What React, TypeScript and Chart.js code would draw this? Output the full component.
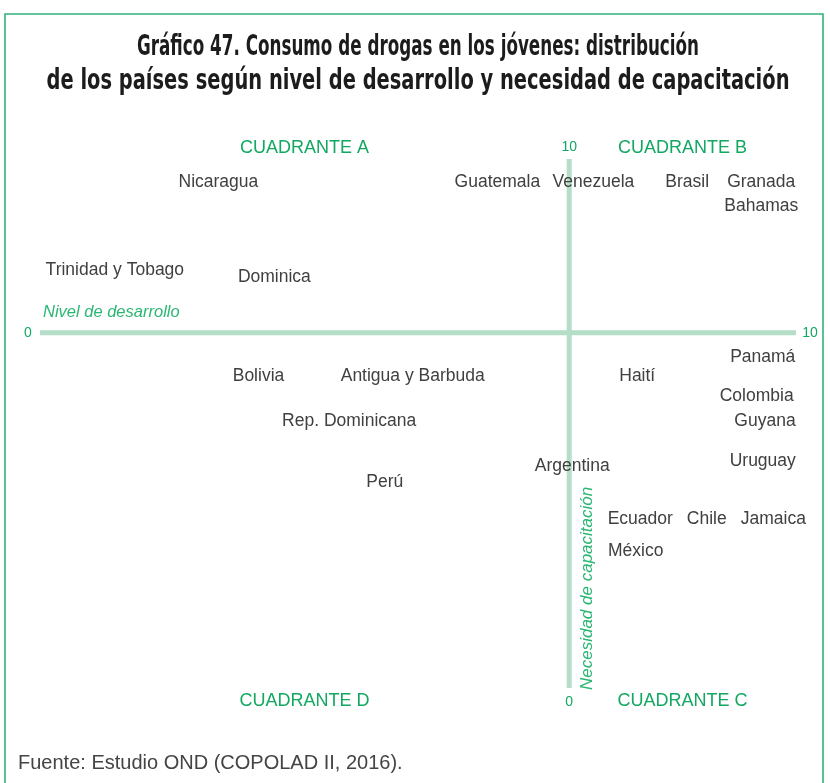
import React, { useEffect, useRef } from 'react';
import { Chart, registerables } from 'chart.js';

Chart.register(...registerables);

// ---- Data ----
const countries = [
  'Nicaragua', 'Guatemala', 'Venezuela', 'Brasil', 'Granada', 'Bahamas',
  'Trinidad y Tobago', 'Dominica', 'Bolivia', 'Antigua y Barbuda', 'Haití',
  'Panamá', 'Colombia', 'Rep. Dominicana', 'Guyana', 'Uruguay', 'Argentina',
  'Perú', 'Ecuador', 'Chile', 'Jamaica', 'México',
];
// Nivel de desarrollo (0–10)
const desarrollo = [
  2.36, 6.05, 7.32, 8.56, 9.54, 9.54,
  0.99, 3.10, 2.89, 4.93, 7.90,
  9.56, 9.48, 4.09, 9.59, 9.56, 7.04,
  4.56, 7.94, 8.82, 9.70, 7.88,
];
// Necesidad de capacitación (0–10)
const capacitacion = [
  9.53, 9.54, 9.54, 9.54, 9.54, 9.09,
  7.87, 7.75, 5.88, 5.88, 5.88,
  6.24, 5.51, 5.03, 5.03, 4.28, 4.18,
  3.89, 3.18, 3.18, 3.18, 2.59,
];
const xTickLabels = ['0', '10'];
const yTickLabels = ['0', '10'];
const xSplit = 7.0;
const ySplit = 6.69;
const quadrantNames = ['CUADRANTE A', 'CUADRANTE B', 'CUADRANTE C', 'CUADRANTE D'];
const titleLines = [
  'Gráfico 47. Consumo de drogas en los jóvenes: distribución',
  'de los países según nivel de desarrollo y necesidad de capacitación',
];
const xAxisTitle = 'Nivel de desarrollo';
const yAxisTitle = 'Necesidad de capacitación';
const sourceText = 'Fuente: Estudio OND (COPOLAD II, 2016).';

// ---- Styles ----
const GREEN = '#12a862';
const GREEN_AXIS_TITLE = '#2bb673';
const LINE_GREEN = '#b4dec7';
const FRAME_GREEN = '#2fb37a';
const TEXT = '#404040';
const SANS = '"Liberation Sans", Arial, Helvetica, sans-serif';

const quadrantPlugin = {
  id: 'quadrantDecor',
  beforeDraw(chart: any) {
    const { ctx, width, height } = chart;
    ctx.save();
    ctx.fillStyle = '#ffffff';
    ctx.fillRect(0, 0, width, height);
    // frame
    ctx.strokeStyle = FRAME_GREEN;
    ctx.lineWidth = 1.6;
    ctx.beginPath();
    ctx.moveTo(5, height + 5);
    ctx.lineTo(5, 14);
    ctx.lineTo(823, 14);
    ctx.lineTo(823, height + 5);
    ctx.stroke();

    // title, condensed bold
    const titleTargets = [562, 743];
    const titleY = [48, 82];
    ctx.fillStyle = '#1c1c1c';
    ctx.textBaseline = 'middle';
    ctx.textAlign = 'center';
    ctx.font = 'bold 27.5px "Liberation Sans Narrow", "DejaVu Sans Condensed", ' + SANS;
    titleLines.forEach((line, i) => {
      const w = ctx.measureText(line).width;
      const sx = titleTargets[i] / w;
      ctx.save();
      ctx.translate(418, titleY[i]);
      ctx.scale(sx, 1);
      ctx.fillText(line, 0, 0);
      ctx.restore();
    });

    // source
    ctx.font = '20px ' + SANS;
    ctx.fillStyle = '#444444';
    ctx.textAlign = 'left';
    ctx.fillText(sourceText, 18, 763);
    ctx.restore();
  },
  beforeDatasetsDraw(chart: any) {
    const { ctx, chartArea } = chart;
    const xs = chart.scales.x;
    const ys = chart.scales.y;
    const vx = xs.getPixelForValue(xSplit);
    const hy = ys.getPixelForValue(ySplit);
    const { left, right, top, bottom } = chartArea;
    ctx.save();
    ctx.strokeStyle = LINE_GREEN;
    ctx.lineWidth = 5;
    ctx.lineCap = 'butt';
    ctx.beginPath();
    ctx.moveTo(left, hy);
    ctx.lineTo(right, hy);
    ctx.moveTo(vx, top + 2);
    ctx.lineTo(vx, bottom);
    ctx.stroke();

    // tick labels
    ctx.fillStyle = GREEN;
    ctx.font = '14px ' + SANS;
    ctx.textBaseline = 'middle';
    ctx.textAlign = 'center';
    ctx.fillText(xTickLabels[0], left - 12, hy);
    ctx.fillText(xTickLabels[1], right + 14, hy);
    ctx.fillText(yTickLabels[1], vx, top - 10);
    ctx.fillText(yTickLabels[0], vx, bottom + 14);

    // quadrant names
    ctx.font = '18px ' + SANS;
    const leftMid = (left + vx) / 2;
    const rightMid = (vx + right) / 2;
    ctx.fillText(quadrantNames[0], leftMid, top - 9);
    ctx.fillText(quadrantNames[1], rightMid, top - 9);
    ctx.fillText(quadrantNames[2], rightMid, bottom + 13);
    ctx.fillText(quadrantNames[3], leftMid, bottom + 13);

    // axis titles
    ctx.fillStyle = GREEN_AXIS_TITLE;
    ctx.font = 'italic 16.5px ' + SANS;
    ctx.textAlign = 'left';
    ctx.fillText(xAxisTitle, left + 3, hy - 20);
    ctx.save();
    ctx.translate(vx + 18, bottom + 2);
    ctx.rotate(-Math.PI / 2);
    ctx.font = 'italic 17px ' + SANS;
    ctx.fillText(yAxisTitle, 0, 0);
    ctx.restore();
    ctx.restore();
  },
  afterDatasetsDraw(chart: any) {
    const { ctx } = chart;
    const meta = chart.getDatasetMeta(0);
    ctx.save();
    ctx.fillStyle = TEXT;
    ctx.font = '17.5px ' + SANS;
    ctx.textAlign = 'center';
    ctx.textBaseline = 'middle';
    meta.data.forEach((pt: any, i: number) => {
      ctx.fillText(countries[i], pt.x, pt.y + 0.5);
    });
    ctx.restore();
  },
};

export default function App() {
  const canvasRef = useRef<HTMLCanvasElement | null>(null);

  useEffect(() => {
    if (!canvasRef.current) return;
    const chart = new Chart(canvasRef.current, {
      type: 'scatter',
      data: {
        datasets: [
          {
            label: 'Países',
            data: countries.map((c, i) => ({ x: desarrollo[i], y: capacitacion[i] })),
            pointRadius: 0,
            pointHoverRadius: 0,
            showLine: false,
          },
        ],
      },
      options: {
        animation: false,
        responsive: false,
        devicePixelRatio: 1,
        layout: { padding: { left: 40, right: 34, top: 157, bottom: 95 } },
        scales: {
          x: { type: 'linear', min: 0, max: 10, display: false },
          y: { type: 'linear', min: 0, max: 10, display: false },
        },
        plugins: {
          legend: { display: false },
          tooltip: { enabled: false },
          title: { display: false },
        },
        events: [],
      },
      plugins: [quadrantPlugin],
    });
    return () => chart.destroy();
  }, []);

  return (
    <div style={{ position: 'absolute', left: 0, top: 0, width: 830, height: 783, background: '#fff' }}>
      <canvas ref={canvasRef} width={830} height={783} style={{ display: 'block' }} />
    </div>
  );
}
